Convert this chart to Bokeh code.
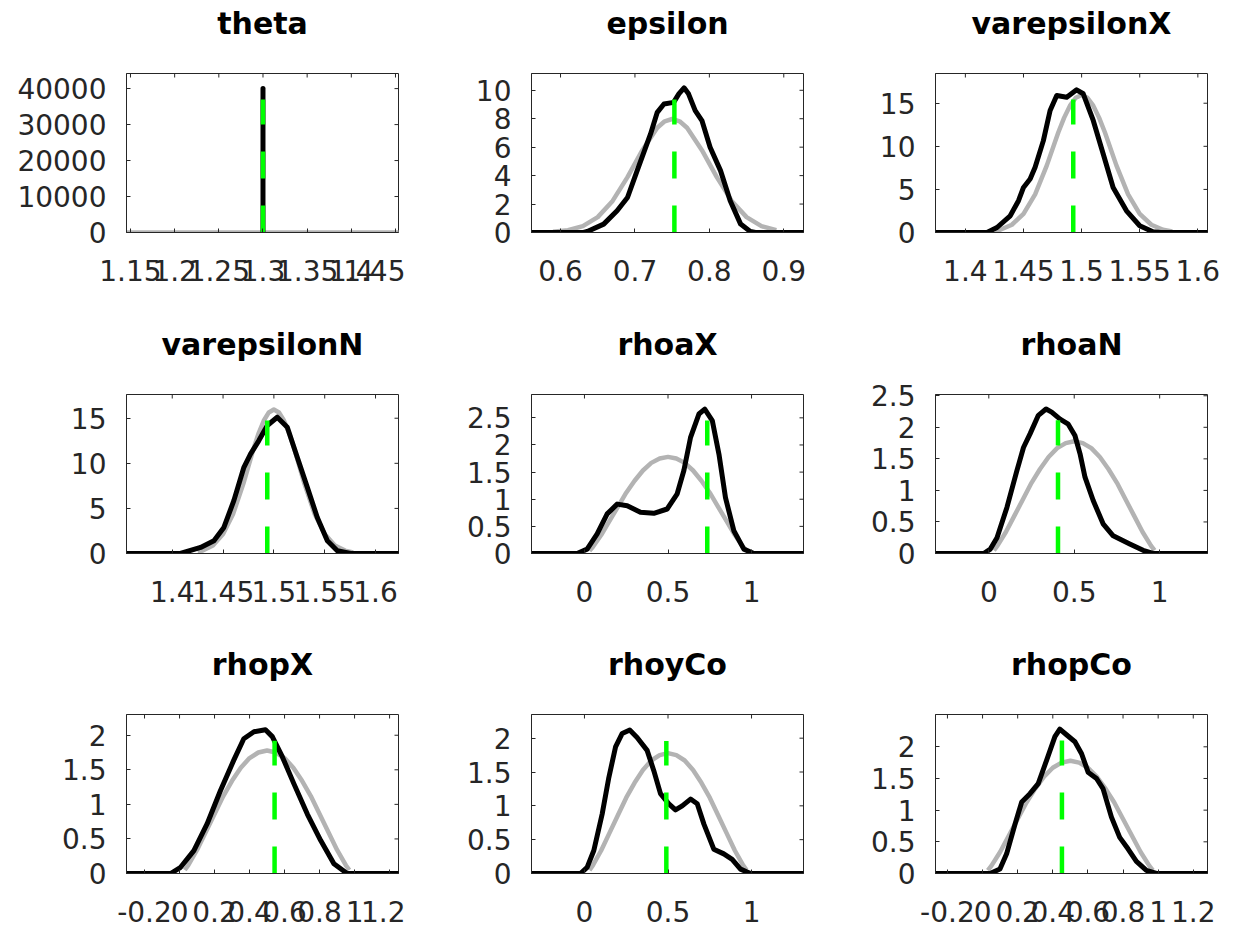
from bokeh.plotting import figure
from bokeh.layouts import column, row
from bokeh.models import Range1d, FixedTicker, CustomJSTickFormatter
from bokeh.embed import file_html
from bokeh.resources import INLINE

# ---------------- data ----------------
names = ["theta", "epsilon", "varepsilonX", "varepsilonN", "rhoaX", "rhoaN",
         "rhopX", "rhoyCo", "rhopCo"]

# prior densities (grey)
theta_prior_x = [1.1, 1.5]
theta_prior_y = [0, 0]
epsilon_prior_x = [0.59, 0.61, 0.63, 0.65, 0.67, 0.69, 0.71, 0.73, 0.74, 0.75, 0.76, 0.77,
                   0.79, 0.81, 0.83, 0.85, 0.87, 0.89]
epsilon_prior_y = [0.05, 0.16, 0.45, 1.08, 2.22, 3.89, 5.79, 7.37, 7.82, 7.98, 7.82, 7.37,
                   5.79, 3.89, 2.22, 1.08, 0.45, 0.16]
vareps_prior_x = [1.425, 1.43, 1.44, 1.45, 1.46, 1.47, 1.48, 1.485, 1.49, 1.495, 1.50, 1.505,
                  1.51, 1.515, 1.52, 1.53, 1.54, 1.55, 1.56, 1.57, 1.578]
vareps_prior_y = [0.18, 0.32, 0.90, 2.16, 4.42, 7.76, 11.63, 13.33, 14.72, 15.64, 15.96, 15.64,
                  14.72, 13.33, 11.63, 7.76, 4.42, 2.16, 0.90, 0.32, 0.12]
rho_prior_x = [0.03, 0.05, 0.1, 0.15, 0.2, 0.25, 0.3, 0.35, 0.4, 0.45, 0.5, 0.55, 0.6, 0.65,
               0.7, 0.75, 0.8, 0.85, 0.9, 0.95, 0.97]
rho_prior_y = [0.05, 0.12, 0.34, 0.60, 0.86, 1.12, 1.34, 1.53, 1.67, 1.75, 1.78, 1.75, 1.67,
               1.53, 1.34, 1.12, 0.86, 0.60, 0.34, 0.12, 0.05]

# posterior densities (black)
theta_post_x = [1.3, 1.3]
theta_post_y = [0, 40000]
epsilon_post_x = [0.55, 0.631, 0.636, 0.658, 0.676, 0.690, 0.703, 0.721, 0.730, 0.739, 0.752,
                  0.759, 0.766, 0.772, 0.781, 0.790, 0.801, 0.815, 0.828, 0.842, 0.855, 0.862, 0.94]
epsilon_post_y = [0, 0, 0.07, 0.59, 1.53, 2.46, 4.35, 6.93, 8.45, 9.04, 9.15, 9.75, 10.17, 9.75,
                  8.57, 7.87, 5.99, 4.35, 2.23, 0.59, 0.07, 0, 0]
varepsX_post_x = [1.36, 1.4186, 1.4272, 1.4386, 1.4457, 1.45, 1.4557, 1.46, 1.4671, 1.4729,
                  1.4786, 1.4872, 1.4957, 1.5014, 1.51, 1.5186, 1.5271, 1.5386, 1.55, 1.5614,
                  1.568, 1.62]
varepsX_post_y = [0, 0, 0.58, 1.94, 3.69, 5.23, 6.2, 7.56, 10.66, 14.15, 15.9, 15.7, 16.56,
                  16.1, 13.0, 9.1, 5.23, 2.52, 0.78, 0.08, 0, 0]
varepsN_post_x = [1.34, 1.408, 1.4279, 1.441, 1.4508, 1.4606, 1.4705, 1.4771, 1.4852, 1.4935,
                  1.5033, 1.5132, 1.523, 1.5329, 1.5427, 1.5526, 1.5624, 1.5755, 1.64]
varepsN_post_y = [0, 0, 0.67, 1.41, 2.89, 5.86, 9.56, 11.04, 12.52, 14.19, 15.11, 14.0, 10.67,
                  7.33, 4.0, 1.41, 0.3, 0, 0]
rhoaX_post_x = [-0.35, -0.044, 0.016, 0.076, 0.136, 0.196, 0.256, 0.335, 0.415, 0.495, 0.555,
                0.595, 0.635, 0.685, 0.72, 0.765, 0.805, 0.844, 0.894, 0.954, 1.014, 1.35]
rhoaX_post_y = [0, 0, 0.08, 0.36, 0.73, 0.91, 0.88, 0.76, 0.74, 0.82, 1.10, 1.53, 2.14, 2.57,
                2.66, 2.45, 1.83, 1.03, 0.42, 0.08, 0, 0]
rhoaN_post_x = [-0.35, -0.03, 0.009, 0.048, 0.106, 0.164, 0.203, 0.242, 0.29, 0.335, 0.368,
                0.417, 0.465, 0.504, 0.534, 0.563, 0.611, 0.669, 0.728, 0.825, 0.903, 0.961, 1.35]
rhoaN_post_y = [0, 0, 0.07, 0.25, 0.73, 1.31, 1.68, 1.90, 2.19, 2.29, 2.24, 2.13, 2.05, 1.87,
                1.58, 1.21, 0.84, 0.47, 0.28, 0.15, 0.05, 0, 0]
rhopX_post_x = [-0.35, -0.051, 0.006, 0.082, 0.158, 0.234, 0.31, 0.367, 0.425, 0.491, 0.53,
                0.587, 0.653, 0.73, 0.806, 0.882, 0.958, 1.3]
rhopX_post_y = [0, 0, 0.09, 0.33, 0.72, 1.20, 1.64, 1.95, 2.05, 2.08, 1.98, 1.69, 1.30, 0.86,
                0.48, 0.14, 0, 0]
rhoyCo_post_x = [-0.35, -0.024, 0.016, 0.056, 0.106, 0.146, 0.186, 0.226, 0.271, 0.315, 0.375,
                 0.415, 0.455, 0.505, 0.545, 0.585, 0.635, 0.675, 0.715, 0.774, 0.834, 0.884,
                 0.934, 0.994, 1.35]
rhoyCo_post_y = [0, 0, 0.09, 0.34, 0.88, 1.42, 1.87, 2.07, 2.12, 2.01, 1.82, 1.52, 1.18, 1.03,
                 0.94, 1.00, 1.10, 1.03, 0.73, 0.36, 0.29, 0.21, 0.065, 0, 0]
rhopCo_post_x = [-0.3, 0.043, 0.099, 0.137, 0.185, 0.223, 0.27, 0.317, 0.365, 0.412, 0.44,
                 0.478, 0.526, 0.564, 0.601, 0.649, 0.686, 0.734, 0.781, 0.828, 0.876, 0.933,
                 0.99, 1.3]
rhopCo_post_y = [0, 0, 0.07, 0.31, 0.78, 1.13, 1.26, 1.42, 1.79, 2.16, 2.28, 2.19, 2.08, 1.89,
                 1.60, 1.50, 1.34, 0.89, 0.57, 0.39, 0.19, 0.05, 0, 0]

# posterior mode (green dashed line) and its height
mode_x = [1.3, 0.753, 1.4928, 1.4935, 0.735, 0.405, 0.543, 0.49, 0.452]
mode_top = [36950, 9.35, 15.42, 14.74, 2.45, 2.11, 1.92, 1.96, 2.10]

# tick values
theta_xticks = [1.15, 1.2, 1.25, 1.3, 1.35, 1.4, 1.45]
epsilon_xticks = [0.6, 0.7, 0.8, 0.9]
vareps_xticks = [1.4, 1.45, 1.5, 1.55, 1.6]
rho_xticks = [0, 0.5, 1]
rhop_xticks = [-0.2, 0, 0.2, 0.4, 0.6, 0.8, 1, 1.2]
theta_yticks = [0, 10000, 20000, 30000, 40000]
epsilon_yticks = [0, 2, 4, 6, 8, 10]
vareps_yticks = [0, 5, 10, 15]
rho25_yticks = [0, 0.5, 1, 1.5, 2, 2.5]
rho2_yticks = [0, 0.5, 1, 1.5, 2]

# axis limits
x_lims = [(1.1455, 1.4534), (0.561, 0.9265), (1.3743, 1.6083), (1.355, 1.6226),
          (-0.317, 1.311), (-0.312, 1.28), (-0.303, 1.251), (-0.317, 1.311), (-0.268, 1.281)]
y_lims = [(0, 44200), (0, 11.18), (0, 18.45), (0, 17.63), (0, 2.93), (0, 2.52),
          (0, 2.30), (0, 2.35), (0, 2.51)]

priors = [(theta_prior_x, theta_prior_y), (epsilon_prior_x, epsilon_prior_y),
          (vareps_prior_x, vareps_prior_y), (vareps_prior_x, vareps_prior_y),
          (rho_prior_x, rho_prior_y), (rho_prior_x, rho_prior_y), (rho_prior_x, rho_prior_y),
          (rho_prior_x, rho_prior_y), (rho_prior_x, rho_prior_y)]
posts = [(theta_post_x, theta_post_y), (epsilon_post_x, epsilon_post_y),
         (varepsX_post_x, varepsX_post_y), (varepsN_post_x, varepsN_post_y),
         (rhoaX_post_x, rhoaX_post_y), (rhoaN_post_x, rhoaN_post_y),
         (rhopX_post_x, rhopX_post_y), (rhoyCo_post_x, rhoyCo_post_y),
         (rhopCo_post_x, rhopCo_post_y)]
xticks = [theta_xticks, epsilon_xticks, vareps_xticks, vareps_xticks, rho_xticks, rho_xticks,
          rhop_xticks, rho_xticks, rhop_xticks]
yticks = [theta_yticks, epsilon_yticks, vareps_yticks, vareps_yticks, rho25_yticks,
          rho25_yticks, rho2_yticks, rho2_yticks, rho2_yticks]

# ---------------- styling / layout ----------------
FRAME_W, FRAME_H = 272, 159
LEFT = [126, 126, 125]
RIGHT = [7, 7, 28]
TOP = 73
BOTTOM = [89, 88, 60]
TICK_LEN = 4
TITLE_PAD = 32
AX_COLOR = "#262626"
FONT = "DejaVu Sans"

fmt_code = "return String(Math.round(tick * 1e6) / 1e6);"


def style_axis(ax, ticks, standoff):
    ax.ticker = FixedTicker(ticks=ticks)
    ax.formatter = CustomJSTickFormatter(code=fmt_code)
    ax.axis_line_color = AX_COLOR
    ax.axis_line_width = 1
    ax.major_tick_line_color = AX_COLOR
    ax.major_tick_in = TICK_LEN
    ax.major_tick_out = 0
    ax.minor_tick_line_color = None
    ax.major_label_text_font = FONT
    ax.major_label_text_font_size = "28px"
    ax.major_label_text_color = AX_COLOR
    ax.major_label_standoff = standoff


figs = []
for i, name in enumerate(names):
    r, c = divmod(i, 3)
    w = LEFT[c] + FRAME_W + RIGHT[c]
    h = TOP + FRAME_H + BOTTOM[r]
    x0, x1 = x_lims[i]
    y0, y1 = y_lims[i]
    p = figure(width=w, height=h, output_backend="svg", toolbar_location=None, title=name,
               x_range=Range1d(x0, x1), y_range=Range1d(y0, y1),
               min_border_left=LEFT[c], min_border_right=RIGHT[c],
               min_border_top=TOP, min_border_bottom=BOTTOM[r])
    p.title.align = "center"
    p.title.text_font = FONT
    p.title.text_font_size = "30px"
    p.title.text_font_style = "bold"
    p.title.text_color = "black"
    p.title.standoff = 2
    p.title.padding = dict(left=0, right=0, top=0, bottom=TITLE_PAD)
    p.xgrid.visible = False
    p.ygrid.visible = False
    p.outline_line_color = AX_COLOR
    p.background_fill_color = "white"
    p.border_fill_color = "white"

    style_axis(p.below[0], xticks[i], 27)
    style_axis(p.left[0], yticks[i], 20)

    # box ticks on the top and right edges (inward, like the bottom/left ones)
    xt, yt = xticks[i], yticks[i]
    dy = TICK_LEN / FRAME_H * (y1 - y0)
    dx = TICK_LEN / FRAME_W * (x1 - x0)
    p.segment(x0=xt, y0=[y1] * len(xt), x1=xt, y1=[y1 - dy] * len(xt),
              line_color=AX_COLOR, line_width=1)
    p.segment(x0=[x1] * len(yt), y0=yt, x1=[x1 - dx] * len(yt), y1=yt,
              line_color=AX_COLOR, line_width=1)

    px, py = priors[i]
    p.line(px, py, line_color="#b3b3b3", line_width=4.5, line_join="round")
    qx, qy = posts[i]
    p.line(qx, qy, line_color="black", line_width=5, line_join="round", line_cap="round")
    p.line([mode_x[i], mode_x[i]], [0, mode_top[i]], line_color="#00ff00", line_width=4.5,
           line_dash="27 27")
    figs.append(p)

layout = column(row(*figs[0:3]), row(*figs[3:6]), row(*figs[6:9]))

with open("out.html", "w") as f:
    f.write(file_html(layout, INLINE))
